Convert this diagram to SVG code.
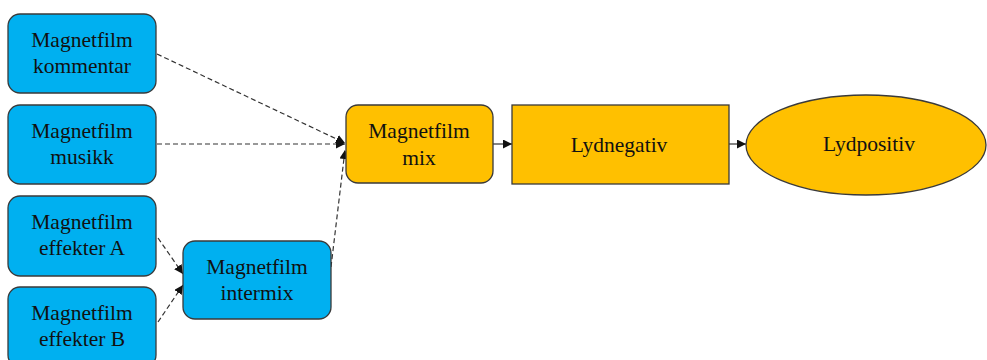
<svg xmlns="http://www.w3.org/2000/svg" width="987" height="360" viewBox="0 0 987 360">
  <style>
    .blue { fill: #00B0F0; stroke: #3a3a3a; stroke-width: 1.3; }
    .gold { fill: #FFC000; stroke: #3a3a3a; stroke-width: 1.3; }
    .lbl { font-family: "Liberation Serif", "Times New Roman", serif; font-size: 21.5px; fill: #111; text-anchor: middle; }
    .dash { fill: none; stroke: #333; stroke-width: 1.2; stroke-dasharray: 5 3; marker-end: url(#arrow); }
    .solid { fill: none; stroke: #333; stroke-width: 1.2; marker-end: url(#arrow); }
  </style>
  <defs>
    <marker id="arrow" viewBox="0 0 10 10" refX="10" refY="5" markerWidth="9" markerHeight="9" markerUnits="userSpaceOnUse" orient="auto">
      <path d="M0,0 L10,5 L0,10 Z" fill="#111"/>
    </marker>
  </defs>

  <rect width="987" height="360" fill="#fff"/>

  <g id="connectors">
    <path class="dash" d="M157,54 L345,143"/>
    <path class="dash" d="M157,144 L345,144"/>
    <path class="dash" d="M331,267 L345,150"/>
    <path class="dash" d="M158,238 L183,274"/>
    <path class="dash" d="M158,322 L183,285"/>
    <path class="solid" d="M493,144 L512,144"/>
    <path class="solid" d="M729,144 L746,144"/>
  </g>

  <g id="kommentar">
    <rect class="blue" x="8" y="14" width="148" height="79" rx="12"/>
    <text class="lbl" x="82" y="47">Magnetfilm</text>
    <text class="lbl" x="82" y="73">kommentar</text>
  </g>

  <g id="musikk">
    <rect class="blue" x="8" y="105" width="148" height="79" rx="12"/>
    <text class="lbl" x="82" y="138">Magnetfilm</text>
    <text class="lbl" x="82" y="164">musikk</text>
  </g>

  <g id="effekterA">
    <rect class="blue" x="8" y="196" width="148" height="80" rx="12"/>
    <text class="lbl" x="82" y="229">Magnetfilm</text>
    <text class="lbl" x="82" y="255">effekter A</text>
  </g>

  <g id="effekterB">
    <rect class="blue" x="8" y="287" width="148" height="80" rx="12"/>
    <text class="lbl" x="82" y="320">Magnetfilm</text>
    <text class="lbl" x="82" y="346">effekter B</text>
  </g>

  <g id="intermix">
    <rect class="blue" x="183" y="241" width="148" height="78" rx="12"/>
    <text class="lbl" x="257" y="274">Magnetfilm</text>
    <text class="lbl" x="257" y="300">intermix</text>
  </g>

  <g id="mix">
    <rect class="gold" x="346" y="105" width="147" height="78" rx="12"/>
    <text class="lbl" x="419" y="138">Magnetfilm</text>
    <text class="lbl" x="419" y="165">mix</text>
  </g>

  <g id="lydnegativ">
    <rect class="gold" x="512" y="105" width="217" height="79"/>
    <text class="lbl" x="619" y="152">Lydnegativ</text>
  </g>

  <g id="lydpositiv">
    <ellipse class="gold" cx="866" cy="145" rx="120" ry="50"/>
    <text class="lbl" x="869" y="151">Lydpositiv</text>
  </g>
</svg>
